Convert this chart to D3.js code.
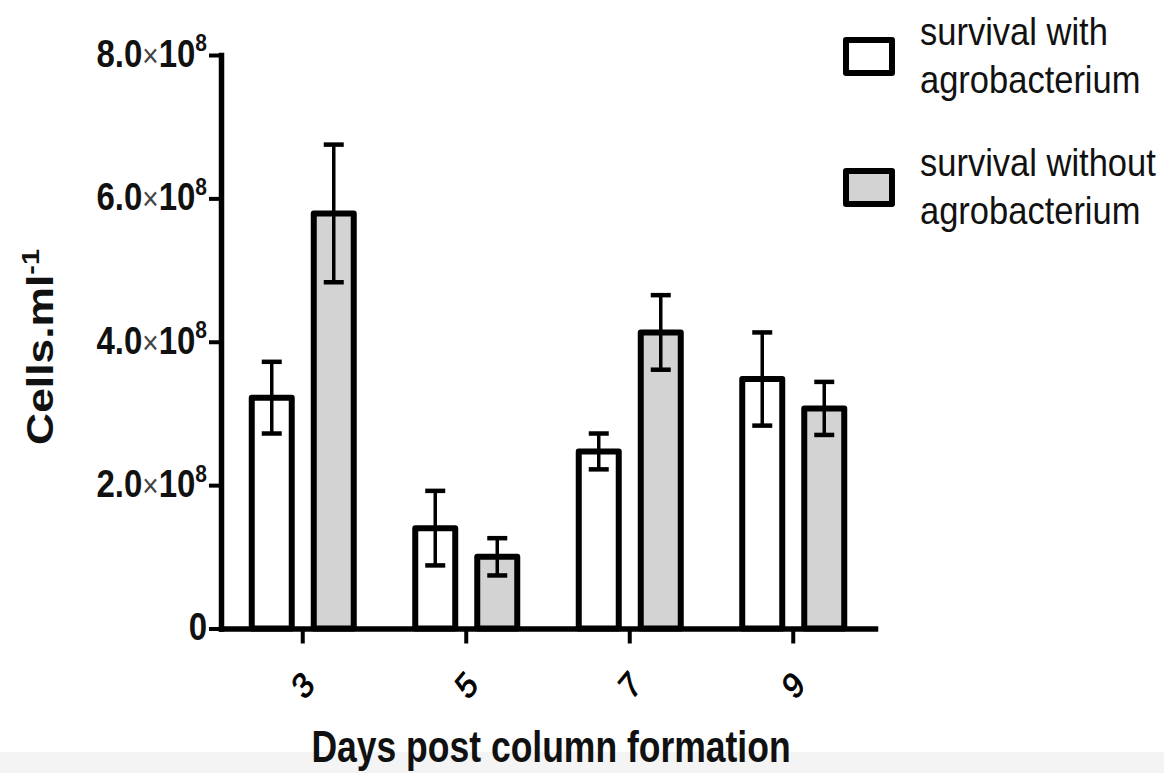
<!DOCTYPE html>
<html lang="en">
<head>
<meta charset="UTF-8">
<title>Cells per ml by day</title>
<script src="https://d3js.org/d3.v7.min.js"></script>
<style>
  body { margin: 0; background: #fff; }
  svg text { font-family: "Liberation Sans", Arial, sans-serif; fill: #111; }
</style>
</head>
<body>
<div id="chart"></div>
<script>
  // data
  const days = ["3", "5", "7", "9"];
  const seriesNames = ["with", "without"];
  const withAgro = [3.22e8, 1.40e8, 2.47e8, 3.48e8];
  const withAgroErr = [0.50e8, 0.52e8, 0.25e8, 0.65e8];
  const withoutAgro = [5.79e8, 1.00e8, 4.13e8, 3.07e8];
  const withoutAgroErr = [0.96e8, 0.26e8, 0.52e8, 0.37e8];
  const yTicks = [0, 2e8, 4e8, 6e8, 8e8];
  const legendLabels = [["survival with", "agrobacterium"], ["survival without", "agrobacterium"]];
  const fills = ["#ffffff", "#d3d3d3"];

  const width = 1164, height = 773;
  const sy = 1.2; // the figure is stretched vertically

  const svg = d3.select("#chart").append("svg")
    .attr("width", width)
    .attr("height", height);

  // light strip at the very bottom
  svg.append("rect")
    .attr("x", 0).attr("y", 752)
    .attr("width", width).attr("height", height - 752)
    .attr("fill", "#f4f4f4");

  const x0 = d3.scaleBand().domain(days).range([221, 875]);
  const x1 = d3.scaleBand().domain(seriesNames).range([-51, 51]).paddingInner(0.355);
  const y = d3.scaleLinear().domain([0, 8e8]).range([628.5, 55]);

  const rows = days.map((d, i) => [
    {day: d, s: "with", v: withAgro[i], e: withAgroErr[i]},
    {day: d, s: "without", v: withoutAgro[i], e: withoutAgroErr[i]}
  ]).flat();
  const color = d3.scaleOrdinal().domain(seriesNames).range(fills);

  const bx = d => x0(d.day) + x0.bandwidth() / 2 + x1(d.s);

  // bars
  svg.append("g")
    .selectAll("rect")
    .data(rows)
    .join("rect")
      .attr("x", bx)
      .attr("y", d => y(d.v))
      .attr("width", x1.bandwidth())
      .attr("height", d => y(0) - y(d.v))
      .attr("fill", d => color(d.s))
      .attr("stroke", "#000")
      .attr("stroke-width", 6)
      .attr("stroke-linejoin", "round");

  // error bars
  const eg = svg.append("g").attr("stroke", "#000");
  eg.selectAll("line.stem")
    .data(rows)
    .join("line")
      .attr("class", "stem")
      .attr("x1", d => bx(d) + x1.bandwidth() / 2)
      .attr("x2", d => bx(d) + x1.bandwidth() / 2)
      .attr("y1", d => y(d.v - d.e))
      .attr("y2", d => y(d.v + d.e))
      .attr("stroke-width", 3.5);
  ["lo", "hi"].forEach(k => {
    eg.selectAll("line.cap-" + k)
      .data(rows)
      .join("line")
        .attr("class", "cap-" + k)
        .attr("x1", d => bx(d) + x1.bandwidth() / 2 - 10)
        .attr("x2", d => bx(d) + x1.bandwidth() / 2 + 10)
        .attr("y1", d => y(k === "lo" ? d.v - d.e : d.v + d.e))
        .attr("y2", d => y(k === "lo" ? d.v - d.e : d.v + d.e))
        .attr("stroke-width", 4.5);
  });

  // y axis
  const yAxis = svg.append("g")
    .attr("transform", "translate(221,0)")
    .call(d3.axisLeft(y).tickValues(yTicks).tickSize(12).tickSizeOuter(0).tickFormat(""));
  yAxis.select(".domain").attr("stroke-width", 5.5).attr("stroke-linecap", "square");
  yAxis.selectAll(".tick line").attr("stroke-width", 4);

  yTicks.forEach(t => {
    const txt = svg.append("text")
      .attr("transform", `translate(207,${y(t)}) scale(1,1.18)`)
      .attr("y", 10)
      .attr("text-anchor", "end")
      .style("font-size", "33px")
      .style("font-weight", "bold");
    if (t === 0) {
      txt.text("0");
    } else {
      const exp = Math.floor(Math.log10(t));
      txt.append("tspan").text((t / Math.pow(10, exp)).toFixed(1));
      txt.append("tspan").text("×").style("font-size", "28px").style("font-weight", "normal").style("fill", "#444");
      txt.append("tspan").text("10");
      txt.append("tspan").text(exp).attr("dy", -13).style("font-size", "21px");
    }
  });

  // x axis
  const xAxis = svg.append("g")
    .attr("transform", `translate(0,${y(0)})`)
    .call(d3.axisBottom(x0).tickSize(15).tickSizeOuter(0).tickFormat(""));
  xAxis.select(".domain").attr("stroke-width", 5.5).attr("stroke-linecap", "square");
  xAxis.selectAll(".tick line").attr("stroke-width", 4);

  days.forEach(d => {
    svg.append("text")
      .attr("transform", `translate(${x0(d) + x0.bandwidth() / 2},685) scale(1,${sy}) rotate(-45)`)
      .attr("text-anchor", "middle")
      .attr("dominant-baseline", "central")
      .style("font-size", "30px")
      .style("fill", "#000")
      .style("stroke", "#000")
      .style("stroke-width", 0.8)
      .text(d);
  });

  // axis titles
  svg.append("text")
    .attr("transform", `translate(551,762) scale(1,1.25)`)
    .attr("text-anchor", "middle")
    .style("font-size", "35.5px")
    .style("font-weight", "bold")
    .text("Days post column formation");

  const yt = svg.append("text")
    .attr("transform", `translate(53,347) scale(1,${sy}) rotate(-90)`)
    .attr("text-anchor", "middle")
    .style("font-size", "37px")
    .style("font-weight", "bold");
  yt.append("tspan").text("Cells.ml");
  yt.append("tspan").text("-1").attr("dy", -14).style("font-size", "24px");

  // legend
  const legendY = [40, 171];
  const lg = svg.append("g");
  seriesNames.forEach((s, i) => {
    lg.append("rect")
      .attr("x", 846).attr("y", legendY[i])
      .attr("width", 46).attr("height", 33)
      .attr("fill", color(s))
      .attr("stroke", "#000")
      .attr("stroke-width", 6)
      .attr("stroke-linejoin", "round");
    legendLabels[i].forEach((line, j) => {
      lg.append("text")
        .attr("transform", `translate(920,${legendY[i] + 5 + j * 48}) scale(1,1.13)`)
        .style("font-size", "34.5px")
        .text(line);
    });
  });
</script>
</body>
</html>
